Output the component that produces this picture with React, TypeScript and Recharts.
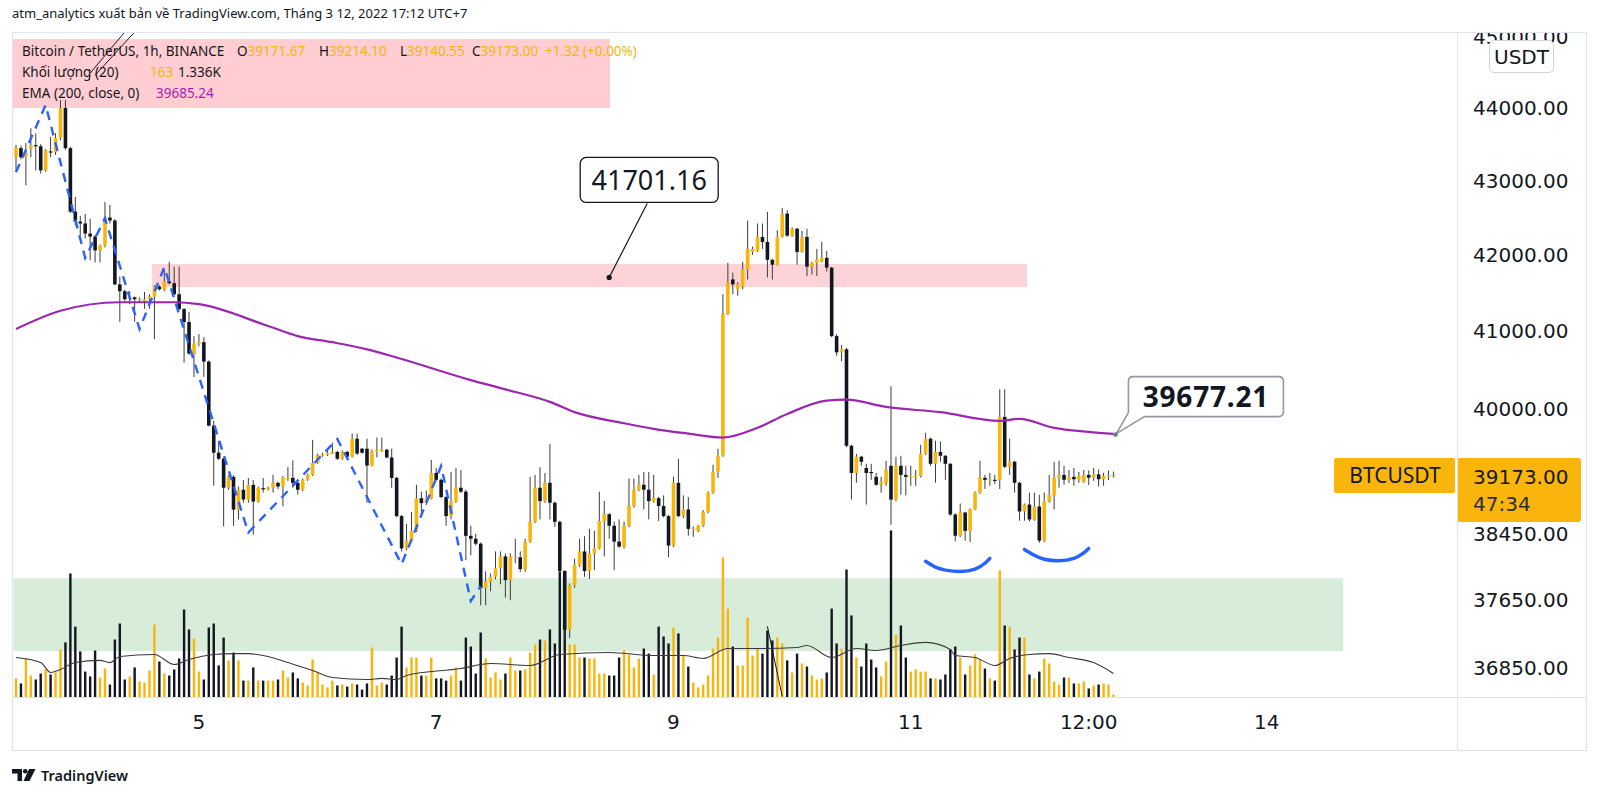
import React from "react";
import {
  ComposedChart,
  Bar,
  Line,
  XAxis,
  YAxis,
  ReferenceArea,
  ReferenceLine,
  ReferenceDot,
} from "recharts";

// ---------- DATA ----------
// Hourly candles BTCUSDT, index 0 = Mar 3 11:00 (UTC+7) ... 222 = Mar 12 17:00
// [open, high, low, close]
const CANDLES: [number, number, number, number][] = [
  [43320, 43490, 43140, 43445], [43445, 43480, 43290, 43320], [43330, 43515, 42935, 43380], [43440, 43720, 43320, 43486],
  [43486, 43650, 43139, 43470], [43470, 43500, 43097, 43140], [43140, 43430, 43120, 43415], [43400, 43600, 43320, 43390],
  [43390, 43650, 43350, 43583], [43583, 44111, 43550, 44000], [44000, 44111, 43420, 43444], [43444, 43460, 42560, 42580],
  [42580, 42777, 42390, 42445], [42445, 42524, 42260, 42420], [42420, 42550, 42220, 42285], [42285, 42485, 41930, 42245],
  [42245, 42270, 41900, 42060], [42060, 42140, 41900, 42125], [42125, 42710, 42100, 42500], [42500, 42670, 42420, 42460],
  [42460, 42480, 41600, 41610], [41610, 41714, 41120, 41520], [41520, 41540, 41390, 41415], [41420, 41520, 41350, 41440],
  [41440, 41450, 41120, 41415], [41415, 41440, 41380, 41420], [41390, 41510, 41290, 41415], [41415, 41480, 41290, 41450],
  [41450, 41600, 40895, 41580], [41580, 41600, 41530, 41545], [41545, 41800, 41520, 41650], [41650, 41910, 41610, 41625],
  [41625, 41845, 41470, 41480], [41480, 41845, 41270, 41285], [41285, 41300, 40592, 41117], [41117, 41250, 40690, 40710],
  [40700, 40934, 40408, 40830], [40830, 40960, 40800, 40855], [40855, 40920, 40410, 40605], [40605, 40620, 39780, 39790],
  [39790, 39850, 39040, 39450], [39450, 39600, 39360, 39375], [39375, 39390, 38540, 39015], [39015, 39170, 38990, 39150],
  [39150, 39170, 38548, 38745], [38745, 39030, 38625, 38990], [38990, 39110, 38830, 38870], [38870, 39135, 38830, 39050],
  [39050, 39110, 38440, 38845], [38845, 39030, 38830, 39015], [39010, 39135, 38955, 38995], [38990, 39030, 38980, 39015],
  [39015, 39175, 38955, 39075], [39075, 39090, 39000, 39030], [39030, 39160, 38785, 39137], [39130, 39270, 39100, 39137],
  [39137, 39355, 39015, 39076], [39076, 39090, 38930, 38990], [38990, 39130, 38970, 39113], [39113, 39190, 39100, 39174],
  [39174, 39610, 39160, 39322], [39322, 39440, 39310, 39422], [39415, 39450, 39400, 39430], [39425, 39470, 39410, 39445],
  [39440, 39575, 39430, 39460], [39460, 39475, 39360, 39375], [39375, 39480, 39360, 39460], [39460, 39475, 39390, 39400],
  [39400, 39690, 39390, 39625], [39625, 39690, 39420, 39440], [39500, 39510, 39440, 39450], [39500, 39625, 38830, 39290],
  [39290, 39490, 39280, 39475], [39470, 39640, 39390, 39480], [39475, 39640, 39460, 39488], [39488, 39500, 39380, 39390],
  [39390, 39500, 39015, 39137], [39137, 39150, 38650, 38666], [38666, 38680, 38236, 38272], [38272, 38570, 38250, 38368],
  [38367, 38718, 38350, 38486], [38486, 39052, 38470, 38886], [38886, 38967, 38690, 38825], [38830, 38980, 38800, 38880],
  [38880, 39360, 38870, 39198], [39198, 39260, 39100, 39113], [39113, 39130, 38886, 38900], [38900, 38910, 38548, 38666],
  [38666, 39210, 38625, 38850], [38850, 39260, 38830, 39015], [39015, 39235, 38950, 38967], [38967, 38990, 38130, 38425],
  [38425, 38548, 38190, 38390], [38390, 38450, 38310, 38330], [38330, 38345, 37590, 37795], [37795, 37995, 37590, 37875],
  [37870, 37970, 37757, 37930], [37930, 38236, 37900, 38034], [38034, 38236, 37840, 38176], [38176, 38212, 37680, 37890],
  [37890, 38212, 37650, 38176], [38160, 38390, 38093, 38170], [38165, 38236, 37990, 38022], [38022, 38390, 37990, 38355],
  [38355, 39150, 38340, 38593], [38593, 39174, 38580, 39015], [39015, 39270, 38625, 38850], [38850, 39198, 38830, 39076],
  [39076, 39560, 38625, 38830], [38830, 38845, 38535, 38596], [38596, 38610, 37990, 38000], [38000, 38010, 37180, 37300],
  [37300, 37850, 37200, 37830], [37830, 38150, 37800, 38070], [38070, 38390, 38050, 38236], [38236, 38420, 37930, 38000],
  [38000, 38510, 37905, 38212], [38212, 38486, 38010, 38272], [38272, 38967, 38260, 38605], [38605, 38850, 38176, 38690],
  [38690, 38700, 38390, 38548], [38548, 38600, 38010, 38355], [38355, 38625, 38280, 38295], [38295, 38600, 38272, 38548],
  [38548, 39129, 38530, 38790], [38790, 39129, 38770, 38990], [38990, 39174, 38970, 39052], [39052, 39210, 38747, 38990],
  [38990, 39210, 38625, 38850], [38850, 39174, 38830, 38886], [38886, 38900, 38605, 38790], [38790, 38920, 38650, 38666],
  [38666, 38680, 38166, 38307], [38307, 39150, 38290, 39076], [39076, 39374, 38650, 38666], [38666, 38920, 38640, 38747],
  [38747, 38900, 38426, 38510], [38505, 38540, 38414, 38515], [38486, 38560, 38470, 38548], [38548, 38740, 38530, 38720],
  [38720, 38970, 38700, 38955], [38955, 39300, 38940, 39210], [39210, 39500, 39137, 39410], [39412, 41480, 39400, 41221],
  [41221, 41896, 41210, 41636], [41675, 41766, 41480, 41610], [41545, 41640, 41460, 41610], [41584, 41909, 41545, 41805],
  [41805, 42460, 41675, 42080], [42040, 42110, 42000, 42080], [42053, 42420, 42040, 42240], [42240, 42420, 42080, 42173],
  [42173, 42577, 41701, 41935], [41935, 41950, 41675, 41870], [41870, 42330, 41860, 42240], [42240, 42630, 42230, 42553],
  [42553, 42600, 42240, 42257], [42257, 42370, 42240, 42350], [42350, 42360, 41870, 42040], [42040, 42320, 42030, 42240],
  [42240, 42350, 41720, 41844], [41844, 41910, 41740, 41896], [41896, 42080, 41720, 41935], [41909, 42173, 41900, 41961],
  [41961, 42053, 41780, 41831], [41831, 41840, 40920, 40934], [40934, 40960, 40680, 40724], [40724, 40820, 40610, 40763],
  [40763, 40780, 39520, 39537], [39537, 39550, 38869, 39198], [39198, 39437, 39076, 39400], [39400, 39412, 39287, 39337],
  [39260, 39312, 38808, 39198], [39210, 39312, 39113, 39200], [39150, 39198, 39040, 39052], [39052, 39150, 38955, 39088],
  [39076, 39350, 39040, 39235], [39287, 40290, 38560, 38869], [38869, 39400, 38850, 39287], [39287, 39412, 38930, 39174],
  [39174, 39287, 38920, 39150], [39150, 39287, 39040, 39155], [39150, 39235, 39040, 39160], [39160, 39550, 39140, 39437],
  [39437, 39700, 39420, 39625], [39625, 39640, 39287, 39312], [39312, 39600, 39076, 39460], [39460, 39590, 39337, 39412],
  [39412, 39420, 39113, 39312], [39312, 39320, 38670, 38686], [38686, 38700, 38360, 38426], [38426, 38820, 38410, 38710],
  [38710, 38720, 38367, 38486], [38486, 38760, 38350, 38747], [38747, 38970, 38740, 38955], [38955, 39350, 38940, 39137],
  [39137, 39174, 39000, 39113], [39113, 39198, 39040, 39120], [39113, 39174, 39060, 39105], [39110, 40250, 39000, 39900],
  [39900, 40250, 39260, 39275], [39275, 39625, 39174, 39337], [39337, 39350, 38955, 39076], [39076, 39090, 38610, 38723],
  [38723, 38820, 38610, 38808], [38808, 38955, 38600, 38625], [38625, 38955, 38610, 38784], [38784, 38930, 38340, 38367],
  [38367, 38955, 38350, 38845], [38845, 39174, 38830, 38930], [38920, 39337, 38747, 39137], [39137, 39350, 39015, 39174],
  [39174, 39287, 39052, 39113], [39113, 39235, 39076, 39150], [39150, 39260, 39040, 39120], [39120, 39210, 39076, 39160],
  [39088, 39235, 39076, 39174], [39174, 39230, 39050, 39140], [39140, 39260, 39100, 39180], [39180, 39240, 39030, 39120],
  [39120, 39200, 39040, 39160], [39160, 39230, 39110, 39172], [39171.67, 39214.1, 39140.55, 39173.0],
];

// Volume (BTC) per candle
const VOLUME: number[] = [
  1060, 780, 2170, 1220, 1000, 1330, 1560, 1280, 1390, 2670,
  3060, 6890, 3940, 2560, 1440, 1170, 2610, 1110, 1610, 720,
  3220, 4110, 1000, 1170, 1670, 890, 830, 1500, 4060, 2000,
  1330, 1220, 1560, 2170, 4890, 3780, 3280, 1440, 1000, 3890,
  4110, 1780, 3330, 2060, 2500, 2060, 940, 940, 1670, 940,
  940, 940, 940, 1000, 1500, 1110, 1390, 1060, 830, 670,
  2110, 1390, 720, 560, 940, 670, 720, 610, 780, 720,
  440, 780, 2780, 670, 830, 720, 1220, 2220,
  3940, 1670, 2220, 2220, 1220, 1220, 2220, 1060, 1060, 940,
  1220, 1670, 940, 3330, 2830, 1330, 3610, 2170, 1110, 1390,
  1000, 1330, 2220, 1500, 1500, 1560, 2500, 2940, 3220, 3170,
  3780, 3000, 7000, 6670, 2940, 2940, 2220, 2220, 2170, 2170,
  1330, 1330, 1220, 1220, 2220, 2610, 2390, 1670, 2170, 2720,
  2440, 1280, 3940, 3390, 3000, 3890, 3560, 2330, 1720, 830,
  560, 720, 1220, 2720, 3330, 7780, 4940, 2830, 1780, 1780,
  4440, 2330, 2720, 2440, 3720, 3170, 3330,
  3000, 2060, 1390, 2440, 1890, 1720, 1220, 1000, 1060, 1390,
  4940, 3000, 2720, 7110, 4560, 2220, 1720, 3000, 2110, 1670,
  1170, 2000, 9280, 3500, 4000, 2220, 1440, 1560, 1440, 1440,
  1060, 1060, 1000, 1280, 2670, 2830, 2220, 1280, 1780, 2390,
  2110, 1610, 1060, 940, 7060, 4000, 3940, 2670, 3330, 3330,
  1280, 1060, 1440, 2170, 1890, 890, 720, 1110, 1110, 780,
  780, 890, 500, 670, 720, 780, 720, 163,
];

// EMA(200) read at some candles [index, value]
const EMA_POINTS: [number, number][] = [
  [0, 41026], [9, 41264], [21, 41375], [32, 41375], [37, 41350], [51, 41065], [57, 40934],
  [64, 40855], [71, 40763], [77, 40658], [92, 40368], [99, 40250], [108, 40090], [113, 39960],
  [123, 39820], [129, 39750], [136, 39690], [143, 39640], [150, 39762], [156, 39937], [164, 40105],
  [168, 40118], [176, 40026], [187, 39960], [199, 39850], [203, 39875], [210, 39762], [217, 39712],
  [222, 39685.24],
];

// Volume MA(20) read at some candles [index, BTC]
const VOL_MA_POINTS: [number, number][] = [
  [0, 2220], [5, 1940], [7, 1390], [9, 1560], [12, 1940], [17, 2060], [19, 1940], [21, 2280],
  [28, 2390], [32, 1830], [35, 2110], [40, 2390], [44, 2440], [47, 2440], [51, 2280], [55, 1940],
  [60, 1500], [64, 1110], [71, 1000], [74, 1060], [77, 1000], [79, 1220], [90, 1610], [96, 1890],
  [104, 1780], [110, 2390], [120, 2500], [129, 2330], [135, 2330], [139, 2170], [144, 2720],
  [151, 2720], [158, 2780], [160, 2890], [165, 2220], [170, 2720], [174, 2610], [179, 2890],
  [184, 3060], [189, 2670], [190, 2330], [194, 2220], [198, 1780], [201, 2170], [205, 2390],
  [209, 2440], [213, 2220], [218, 1940], [222, 1336],
];

// Blue dashed wave drawing [index, price]
const WAVE_POINTS: [number, number][] = [
  [0, 43113], [6, 44042], [14, 41961], [18, 42487], [25, 41026], [30, 41836], [47, 38466],
  [65, 39622], [78, 38081], [86, 39284], [92, 37640], [94, 37817],
];

// Two blue "cup" arcs [index, price]
const ARC1_POINTS: [number, number][] = [
  [184, 38117], [186, 38046], [188, 38010], [191, 37993], [194, 38022], [196, 38093], [197, 38153],
];
const ARC2_POINTS: [number, number][] = [
  [204, 38260], [206, 38189], [208, 38141], [211, 38123], [214, 38153], [216, 38219], [217, 38272],
];

const Y_TICKS = [36850, 37650, 38450, 40000, 41000, 42000, 43000, 44000, 45000];
const X_TICKS = [37, 85, 133, 181, 217, 253];
const X_LABELS: Record<number, string> = { 37: "5", 85: "7", 133: "9", 181: "11", 217: "12:00", 253: "14" };

const SLOTS = 292;
const P_MIN = 36507.7;
const P_MAX = 45071.8;
const VOL_MAX = 36972;

// ---------- STYLE ----------
const ORANGE = "#F9B50B";
const DARK = "#131722";
const WICK = "#3d3d3d";
const PURPLE = "#9c27b0";
const BLUE = "#2962FF";
const BORDER = "#e0e3eb";
const AXIS_FONT = "DejaVu Sans";
const UI_FONT = "Noto Sans";

// ---------- build table ----------
const data: any[] = Array.from({ length: SLOTS }, (_, i) => {
  const row: any = { i };
  const k = CANDLES[i];
  if (k) {
    const [o, h, l, c] = k;
    row.o = o; row.h = h; row.l = l; row.c = c;
    row.range = [l, h];
    row.up = c >= o;
    row.vol = VOLUME[i];
  }
  return row;
});
EMA_POINTS.forEach(([i, v]) => (data[i].ema = v));
VOL_MA_POINTS.forEach(([i, v]) => (data[i].vma = v));
WAVE_POINTS.forEach(([i, v]) => (data[i].wave = v));
ARC1_POINTS.forEach(([i, v]) => (data[i].arc1 = v));
ARC2_POINTS.forEach(([i, v]) => (data[i].arc2 = v));

// ---------- shapes ----------
const Candle = (props: any) => {
  const { x, y, width, height, payload } = props;
  if (!payload || payload.o == null || !isFinite(y) || !isFinite(height)) return <g />;
  const { o, h, l, c } = payload;
  const lh = Math.log(h);
  const ll = Math.log(l);
  const span = lh - ll || 1;
  const toY = (v: number) => y + (height * (lh - Math.log(v))) / span;
  const cx = x + width / 2;
  const top = toY(Math.max(o, c));
  const bot = toY(Math.min(o, c));
  const bw = 3.6;
  return (
    <g>
      <line x1={cx} x2={cx} y1={y} y2={y + height} stroke={WICK} strokeWidth={1} />
      <rect x={cx - bw / 2} y={top} width={bw} height={Math.max(1.2, bot - top)} fill={c >= o ? ORANGE : DARK} />
    </g>
  );
};

const VolBar = (props: any) => {
  const { x, y, width, height, payload } = props;
  if (!payload || payload.vol == null || !isFinite(y)) return <g />;
  const cx = x + width / 2;
  return <rect x={cx - 1.2} y={y} width={2.4} height={Math.max(0.5, height)} fill={payload.up ? ORANGE : DARK} />;
};

const PriceTick = (props: any) => {
  const { x, y, payload } = props;
  return (
    <text x={x} y={y} dy={7} fill={DARK} fontSize={20} fontFamily={AXIS_FONT} textAnchor="start">
      {Number(payload.value).toFixed(2)}
    </text>
  );
};

const TimeTick = (props: any) => {
  const { x, y, payload } = props;
  return (
    <text x={x} y={y} dy={31.8} fill={DARK} fontSize={20} fontFamily={AXIS_FONT} textAnchor="middle">
      {X_LABELS[payload.value] ?? ""}
    </text>
  );
};

const Callout1 = (props: any) => {
  const { cx, cy } = props;
  if (!isFinite(cx) || !isFinite(cy)) return <g />;
  return (
    <g>
      <line x1={cx} y1={cy} x2={cx + 38} y2={cy - 74} stroke={DARK} strokeWidth={1.2} />
      <circle cx={cx} cy={cy} r={2.6} fill={DARK} />
      <rect x={cx - 29} y={cy - 120} width={138} height={45} rx={6} fill="#ffffff" stroke={DARK} strokeWidth={1.3} />
      <text x={cx + 40} y={cy - 97.5} dy={9.8} textAnchor="middle" fontSize={27} fontFamily={UI_FONT} fill={DARK}>
        41701.16
      </text>
    </g>
  );
};

const Callout2 = (props: any) => {
  const { cx, cy } = props;
  if (!isFinite(cx) || !isFinite(cy)) return <g />;
  const L = cx + 15, R = cx + 170, T = cy - 58, B = cy - 18, r = 5;
  const d = `M ${L + r} ${T} H ${R - r} Q ${R} ${T} ${R} ${T + r} V ${B - r} Q ${R} ${B} ${R - r} ${B} H ${L + 16} L ${cx + 3} ${cy - 1} L ${L} ${B - 4} V ${T + r} Q ${L} ${T} ${L + r} ${T} Z`;
  return (
    <g>
      <path d={d} fill="#ffffff" stroke="#9598a1" strokeWidth={1.6} />
      <circle cx={cx + 2} cy={cy} r={2.4} fill="#787b86" />
      <text x={(L + R) / 2} y={cy - 38} dy={10} textAnchor="middle" fontSize={28} fontWeight={700} fontFamily={UI_FONT} fill={DARK} letterSpacing={0.8}>
        39677.21
      </text>
    </g>
  );
};

const PriceTag = (props: any) => {
  const vb = props.viewBox || {};
  const right = (vb.x ?? 0) + (vb.width ?? 0);
  const ly = vb.y ?? 0;
  return (
    <g>
      <rect x={right - 123} y={ly - 17} width={121} height={35} rx={2} fill={ORANGE} />
      <text x={right - 62} y={ly + 1} dy={7.5} textAnchor="middle" fontSize={21} fontFamily={UI_FONT} fill={DARK}>
        BTCUSDT
      </text>
      <rect x={right} y={ly - 17} width={124} height={64} rx={3} fill={ORANGE} />
      <text x={right + 16} y={ly + 2} dy={7.3} fontSize={20} fontFamily={AXIS_FONT} fill={DARK}>
        39173.00
      </text>
      <text x={right + 16} y={ly + 29} dy={7.3} fontSize={20} fontFamily={AXIS_FONT} fill="#2a2e39">
        47:34
      </text>
    </g>
  );
};

const TVLogo = () => (
  <svg width={24} height={14} viewBox="0 0 24 14" style={{ display: "block" }}>
    <path d="M0 1 H10 V13 H5.5 V5.5 H0 Z" fill={DARK} />
    <circle cx={13.2} cy={3.3} r={2.3} fill={DARK} />
    <path d="M17 1 H23.5 L17.5 13 H11.5 Z" fill={DARK} />
  </svg>
);

const abs = (l: number, t: number, extra: React.CSSProperties = {}): React.CSSProperties => ({
  position: "absolute",
  left: l,
  top: t,
  ...extra,
});

export default function App() {
  const legendText: React.CSSProperties = { fontFamily: UI_FONT, fontSize: 13.5, color: DARK, whiteSpace: "nowrap", lineHeight: "18px" };
  const val = (color: string): React.CSSProperties => ({ color });
  return (
    <div style={{ position: "absolute", left: 0, top: 0, width: 1600, height: 794, background: "#ffffff", overflow: "hidden" }}>
      {/* top publication line */}
      <div style={abs(12, 4, { fontFamily: UI_FONT, fontSize: 13, color: DARK, whiteSpace: "nowrap", lineHeight: "18px" })}>
        atm_analytics xuất bản về TradingView.com, Tháng 3 12, 2022 17:12 UTC+7
      </div>

      {/* legend background (under the chart drawing) */}
      <div style={abs(12, 39, { width: 598, height: 69, background: "#ffcdd2" })} />

      <div style={abs(0, 0)}>
        <ComposedChart
          width={1600}
          height={794}
          data={data}
          margin={{ top: 32, right: 13, bottom: 42.5, left: 13.5 }}
          barCategoryGap={0}
        >
          <XAxis
            dataKey="i"
            type="category"
            ticks={X_TICKS}
            interval={0}
            tick={<TimeTick />}
            tickLine={false}
            tickSize={0}
            tickMargin={0}
            axisLine={false}
            height={54}
          />
          <XAxis xAxisId="v" dataKey="i" type="category" hide />
          <YAxis
            yAxisId="p"
            orientation="right"
            type="number"
            scale="log"
            domain={[P_MIN, P_MAX]}
            allowDataOverflow
            ticks={Y_TICKS}
            interval={0}
            tick={<PriceTick />}
            tickLine={false}
            tickSize={0}
            tickMargin={16}
            axisLine={false}
            width={130}
          />
          <YAxis yAxisId="vol" type="number" domain={[0, VOL_MAX]} hide allowDataOverflow />

          <ReferenceArea yAxisId="p" x1={0} x2={268} y1={37048} y2={37914} fill="#4caf50" fillOpacity={0.22} stroke="none" ifOverflow="visible" />
          <ReferenceArea yAxisId="p" x1={28} x2={204} y1={41576} y2={41879} fill="#f23645" fillOpacity={0.22} stroke="none" ifOverflow="visible" />

          <Bar xAxisId="v" yAxisId="vol" dataKey="vol" shape={<VolBar />} isAnimationActive={false} />
          <Line xAxisId="v" yAxisId="vol" dataKey="vma" type="monotone" connectNulls dot={false} stroke="#3a3a3a" strokeWidth={1.1} isAnimationActive={false} />

          <Bar yAxisId="p" dataKey="range" shape={<Candle />} isAnimationActive={false} />

          <Line yAxisId="p" dataKey="ema" type="monotone" connectNulls dot={false} stroke={PURPLE} strokeWidth={2.2} isAnimationActive={false} />
          <Line yAxisId="p" dataKey="wave" type="linear" connectNulls dot={false} stroke={BLUE} strokeWidth={2.4} strokeDasharray="9 7" isAnimationActive={false} />
          <Line yAxisId="p" dataKey="arc1" type="natural" connectNulls dot={false} stroke={BLUE} strokeWidth={3.5} strokeLinecap="round" isAnimationActive={false} />
          <Line yAxisId="p" dataKey="arc2" type="natural" connectNulls dot={false} stroke={BLUE} strokeWidth={3.5} strokeLinecap="round" isAnimationActive={false} />

          <ReferenceLine yAxisId="p" segment={[{ x: 24, y: 45071 }, { x: 16, y: 44459 }]} stroke={DARK} strokeWidth={1} ifOverflow="visible" />
          <ReferenceLine yAxisId="p" segment={[{ x: 22, y: 45071 }, { x: 15, y: 44487 }]} stroke={DARK} strokeWidth={1} ifOverflow="visible" />
          <ReferenceLine yAxisId="p" segment={[{ x: 152, y: 37340 }, { x: 155, y: 36520 }]} stroke={DARK} strokeWidth={1} ifOverflow="visible" />

          <ReferenceDot yAxisId="p" x={120} y={41701.16} r={3} shape={(p: any) => <Callout1 {...p} />} ifOverflow="visible" />
          <ReferenceDot yAxisId="p" x={222} y={39677.21} r={3} shape={(p: any) => <Callout2 {...p} />} ifOverflow="visible" />
          <ReferenceLine yAxisId="p" y={39173} stroke="none" ifOverflow="visible" label={(p: any) => <PriceTag {...p} />} />
        </ComposedChart>
      </div>

      {/* legend text */}
      <div style={abs(22, 42, legendText)}>Bitcoin / TetherUS, 1h, BINANCE</div>
      <div style={abs(237, 42, legendText)}>O<span style={val(ORANGE)}>39171.67</span></div>
      <div style={abs(319, 42, legendText)}>H<span style={val(ORANGE)}>39214.10</span></div>
      <div style={abs(400, 42, legendText)}>L<span style={val(ORANGE)}>39140.55</span></div>
      <div style={abs(472, 42, legendText)}>C<span style={val(ORANGE)}>39173.00</span></div>
      <div style={abs(545, 42, { ...legendText, color: ORANGE })}>+1.32 (+0.00%)</div>
      <div style={abs(22, 63, legendText)}>Khối lượng (20)</div>
      <div style={abs(150, 63, { ...legendText, color: ORANGE })}>163</div>
      <div style={abs(178, 63, legendText)}>1.336K</div>
      <div style={abs(22, 84, legendText)}>EMA (200, close, 0)</div>
      <div style={abs(156, 84, { ...legendText, color: "#a51fb6" })}>39685.24</div>

      {/* frame */}
      <div style={abs(1458, 0, { width: 142, height: 32, background: "#ffffff" })} />
      <div style={abs(12, 32, { width: 1575, height: 719, border: `1px solid ${BORDER}`, boxSizing: "border-box" })} />
      <div style={abs(12, 697, { width: 1575, height: 1, background: BORDER })} />
      <div style={abs(1457, 32, { width: 1, height: 719, background: BORDER })} />

      {/* currency badge */}
      <div
        style={abs(1489, 40, {
          width: 65,
          height: 33,
          border: "1px solid #d1d4dc",
          borderRadius: 5,
          background: "#ffffff",
          boxSizing: "border-box",
          fontFamily: AXIS_FONT,
          fontSize: 20,
          color: DARK,
          display: "flex",
          alignItems: "center",
          justifyContent: "center",
        })}
      >
        USDT
      </div>

      {/* branding */}
      <div style={abs(12, 765, { display: "flex", alignItems: "center", gap: 5 })}>
        <TVLogo />
        <span style={{ fontFamily: UI_FONT, fontSize: 14.5, fontWeight: 600, color: DARK }}>TradingView</span>
      </div>
    </div>
  );
}
